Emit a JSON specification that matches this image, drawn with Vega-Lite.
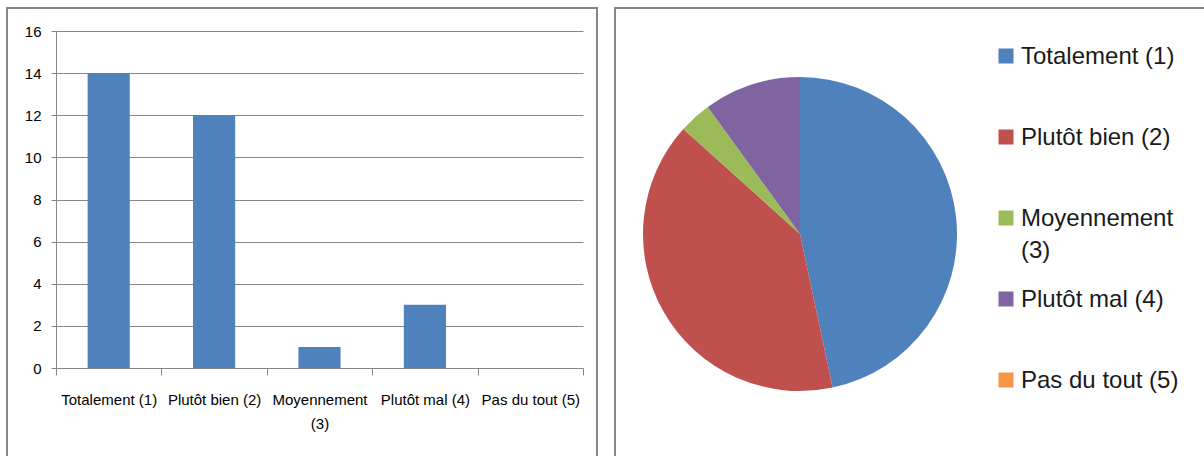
{
  "$schema": "https://vega.github.io/schema/vega-lite/v6.json",
  "autosize": {"type": "pad"},
  "padding": {"left": 6, "top": 7, "right": 0, "bottom": 0},
  "spacing": 16,
  "background": "white",
  "config": {
    "view": {"stroke": "#878787", "strokeWidth": 2},
    "style": {"guide-label": {"lineHeight": 32}}
  },
  "datasets": {
    "rep": [
      {"reponse": "Totalement (1)", "n": 14, "rang": 1},
      {"reponse": "Plutôt bien (2)", "n": 12, "rang": 2},
      {"reponse": "Moyennement (3)", "n": 1, "rang": 3},
      {"reponse": "Plutôt mal (4)", "n": 3, "rang": 4},
      {"reponse": "Pas du tout (5)", "n": 0, "rang": 5}
    ]
  },
  "hconcat": [
    {
      "width": 590,
      "height": 460,
      "data": {"name": "rep"},
      "mark": {"type": "bar", "color": "#4F81BD", "width": {"band": 0.4}},
      "encoding": {
        "x": {
          "field": "reponse",
          "type": "nominal",
          "sort": null,
          "scale": {"range": [49, 576], "paddingInner": 0, "paddingOuter": 0},
          "axis": {
            "title": null,
            "orient": "bottom",
            "offset": -100,
            "tickBand": "extent",
            "tickSize": 7,
            "labelPadding": 17,
            "labelAngle": 0,
            "labelBaseline": "top",
            "labelFont": "Liberation Sans, Arial, sans-serif",
            "labelFontSize": 15,
            "labelLineHeight": 24,
            "labelColor": "#000000",
            "labelLimit": 200,
            "labelExpr": "datum.label == 'Moyennement (3)' ? ['Moyennement', '(3)'] : datum.label",
            "domainColor": "#878787",
            "tickColor": "#878787",
            "grid": false
          }
        },
        "y": {
          "field": "n",
          "type": "quantitative",
          "scale": {"domain": [0, 16], "range": [360, 23], "nice": false},
          "axis": {
            "title": null,
            "offset": -49,
            "values": [0, 2, 4, 6, 8, 10, 12, 14, 16],
            "tickSize": 5,
            "labelPadding": 10,
            "labelFont": "Liberation Sans, Arial, sans-serif",
            "labelFontSize": 15,
            "labelColor": "#000000",
            "domainColor": "#878787",
            "tickColor": "#878787",
            "gridColor": "#878787",
            "grid": true
          }
        }
      }
    },
    {
      "width": 592,
      "height": 460,
      "view": {"stroke": "#878787", "strokeWidth": 2},
      "data": {"name": "rep"},
      "mark": {
        "type": "arc",
        "outerRadius": 157,
        "x": 185,
        "y": 226
      },
      "encoding": {
        "theta": {"field": "n", "type": "quantitative", "stack": true},
        "order": {"field": "rang", "type": "quantitative"},
        "color": {
          "field": "reponse",
          "type": "nominal",
          "scale": {
            "domain": ["Totalement (1)", "Plutôt bien (2)", "Moyennement (3)", "Plutôt mal (4)", "Pas du tout (5)"],
            "range": ["#4F81BD", "#C0504D", "#9BBB59", "#8064A2", "#F79646"]
          },
          "legend": {
            "title": null,
            "orient": "none",
            "legendX": 987,
            "legendY": 36,
            "symbolType": "square",
            "symbolSize": 225,
            "symbolStrokeWidth": 0,
            "labelFont": "Liberation Sans, Arial, sans-serif",
            "labelFontSize": 24,
            "labelOffset": 3,
            "labelLimit": 300,
            "labelColor": "#1a1a1a",
            "labelBaseline": "alphabetic",
            "gridAlign": "all",
            "rowPadding": 24,
            "encode": {"labels": {"update": {"dy": {"value": 8}}}},
            "labelExpr": "datum.label == 'Moyennement (3)' ? ['Moyennement', '(3)'] : datum.label"
          }
        }
      }
    }
  ]
}
